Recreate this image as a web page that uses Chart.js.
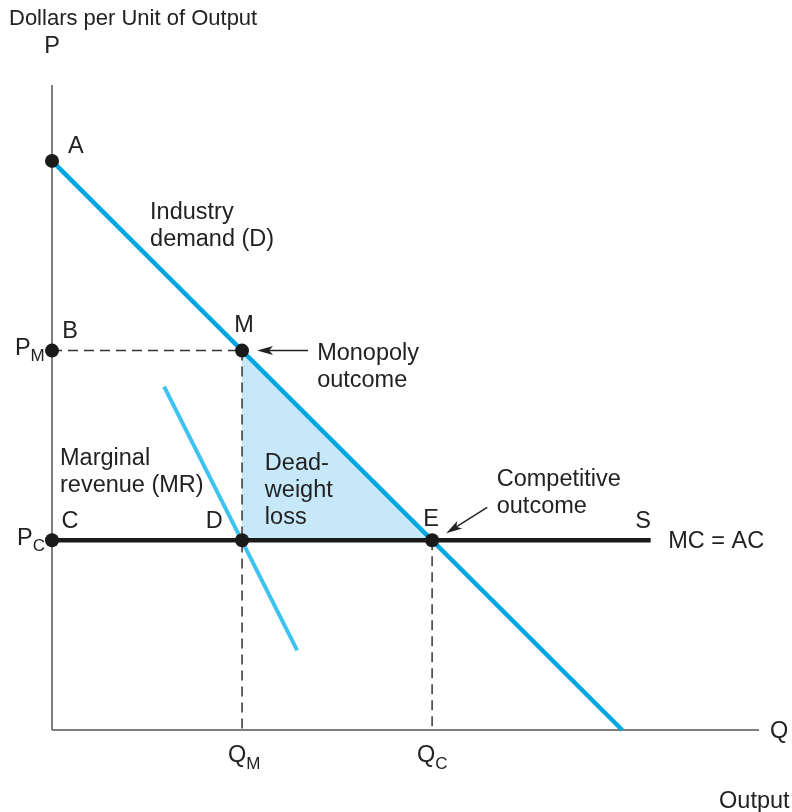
<!DOCTYPE html>
<html><head><meta charset="utf-8">
<script src="https://cdn.jsdelivr.net/npm/chart.js@4"></script>
<style>html,body{margin:0;padding:0;background:#fff}#wrap{width:792px;height:812px}</style>
</head><body><div id="wrap"><canvas id="c" width="792" height="812"></canvas></div>
<script>
// ---- data (quantity q on x, price p on y) ----
const demandLine = [{x:0,y:30},{x:30,y:0}];
const marginalRevenueLine = [{x:5.9,y:18.1},{x:12.9,y:4.2}];
const marginalCostLine = [{x:0,y:10},{x:31.5,y:10}];
const deadweightEdge = [{x:10,y:20},{x:20,y:10}];
const deadweightBase = 10;
const keyPoints = [{x:0,y:30},{x:0,y:20},{x:10,y:20},{x:0,y:10},{x:10,y:10},{x:20,y:10}];
const pointNames = ['A','B','M','C','D','E'];
const monopolyPrice = 20, monopolyQty = 10;
const competitivePrice = 10, competitiveQty = 20;
const axisMaxQ = 37.2, axisMaxP = 34;

const FONT = '"Liberation Sans", Arial, Helvetica, sans-serif';
const TXT = '#222';
const FS = 23.5, SUBFS = 17, TITLEFS = 22;

const labelsPlugin = {
  id: 'labels',
  afterDraw(chart) {
    const ctx = chart.ctx;
    const xs = chart.scales.x, ys = chart.scales.y;
    const X = q => xs.getPixelForValue(q), Y = p => ys.getPixelForValue(p);
    ctx.save();
    ctx.fillStyle = TXT;
    function t(text, q, p, align) {
      ctx.font = FS + 'px ' + FONT;
      ctx.textAlign = align || 'center';
      ctx.textBaseline = 'middle';
      ctx.fillText(text, X(q), Y(p));
    }
    function lines(arr, q, p, step) {
      arr.forEach((s, i) => t(s, q, p - i * step, 'left'));
    }
    function sub(base, s, q, p) {
      ctx.textBaseline = 'middle';
      ctx.textAlign = 'left';
      ctx.font = FS + 'px ' + FONT;
      const x0 = X(q), y0 = Y(p);
      ctx.fillText(base, x0, y0);
      const w = ctx.measureText(base).width;
      ctx.font = SUBFS + 'px ' + FONT;
      ctx.fillText(s, x0 + w, y0 + 8);
    }
    function arrow(q1, p1, q2, p2) {
      const x1 = X(q1), y1 = Y(p1), x2 = X(q2), y2 = Y(p2);
      const a = Math.atan2(y2 - y1, x2 - x1), c = Math.cos(a), s = Math.sin(a);
      ctx.strokeStyle = TXT; ctx.lineWidth = 1.5;
      ctx.beginPath(); ctx.moveTo(x1, y1);
      ctx.lineTo(x2 - 10 * c, y2 - 10 * s); ctx.stroke();
      ctx.beginPath();
      ctx.moveTo(x2, y2);
      ctx.lineTo(x2 - 16 * c + 4.5 * s, y2 - 16 * s - 4.5 * c);
      ctx.lineTo(x2 - 12 * c, y2 - 12 * s);
      ctx.lineTo(x2 - 16 * c - 4.5 * s, y2 - 16 * s + 4.5 * c);
      ctx.closePath(); ctx.fill();
    }
    // title & axis letters
    ctx.font = TITLEFS + 'px ' + FONT; ctx.textAlign = 'left'; ctx.textBaseline = 'middle';
    ctx.fillText('Dollars per Unit of Output', 9, 19);
    t('P', 0, 36.05);
    t('Q', 37.78, -0.1, 'left');
    t('Output', 35.1, -3.75, 'left');
    // point names
    t(pointNames[0], 1.26, 30.74);
    t(pointNames[1], 0.95, 21.0);
    t(pointNames[2], 10.1, 21.3);
    t(pointNames[3], 0.95, 11.0);
    t(pointNames[4], 8.53, 11.0);
    t(pointNames[5], 19.95, 11.1);
    t('S', 31.1, 11.0);
    t('MC = AC', 32.42, 9.95, 'left');
    // curve / area labels
    lines(['Industry', 'demand (D)'], 5.16, 27.3, 1.42);
    lines(['Monopoly', 'outcome'], 13.95, 19.84, 1.4);
    lines(['Marginal', 'revenue (MR)'], 0.42, 14.3, 1.42);
    lines(['Dead-', 'weight', 'loss'], 11.2, 14.05, 1.42);
    lines(['Competitive', 'outcome'], 23.4, 13.2, 1.42);
    // subscripted axis labels
    sub('P', 'M', -1.95, 20.1);
    sub('P', 'C', -1.84, 10.1);
    sub('Q', 'M', 9.26, -1.37);
    sub('Q', 'C', 19.2, -1.37);
    // arrows
    arrow(13.47, monopolyPrice, 10.79, monopolyPrice);
    arrow(22.9, 11.74, 20.74, 10.37);
    ctx.restore();
  }
};

const lineDS = (data, color, width, order, extra) => Object.assign({
  type: 'line', data, borderColor: color, borderWidth: width, pointRadius: 0,
  fill: false, tension: 0, order, clip: false, borderCapStyle: 'butt'
}, extra || {});

new Chart(document.getElementById('c'), {
  type: 'scatter',
  data: {
    datasets: [
      Object.assign(lineDS(keyPoints, 'rgba(0,0,0,0)', 0, 0), {
        showLine: false, pointRadius: 7, pointBackgroundColor: '#1a1a1a',
        pointBorderColor: '#1a1a1a', pointBorderWidth: 0, type: 'scatter'
      }),
      lineDS(marginalCostLine, '#1a1a1a', 4.5, 1),
      lineDS(demandLine, '#00a6e0', 4.5, 2),
      lineDS(marginalRevenueLine, '#3ec3f0', 4, 3),
      lineDS([{x:0,y:monopolyPrice},{x:monopolyQty,y:monopolyPrice}], '#333', 1.5, 4, {borderDash:[10,6]}),
      lineDS([{x:monopolyQty,y:monopolyPrice},{x:monopolyQty,y:0}], '#333', 1.5, 4, {borderDash:[10,6]}),
      lineDS([{x:competitiveQty,y:competitivePrice},{x:competitiveQty,y:0}], '#333', 1.5, 4, {borderDash:[10,6]}),
      lineDS([{x:0,y:0},{x:0,y:axisMaxP}], '#555', 1.5, 5),
      lineDS([{x:0,y:0},{x:axisMaxQ,y:0}], '#555', 1.5, 5),
      lineDS(deadweightEdge, 'rgba(0,0,0,0)', 0, 6, {fill: {value: deadweightBase}, backgroundColor: '#c6e8f8'})
    ]
  },
  options: {
    responsive: false, animation: false, devicePixelRatio: 1,
    layout: { padding: { left: 52, right: 33, top: 85, bottom: 82 } },
    scales: {
      x: { type: 'linear', min: 0, max: axisMaxQ, display: false },
      y: { type: 'linear', min: 0, max: axisMaxP, display: false }
    },
    plugins: { legend: { display: false }, tooltip: { enabled: false } }
  },
  plugins: [labelsPlugin]
});
</script>
</body></html>
